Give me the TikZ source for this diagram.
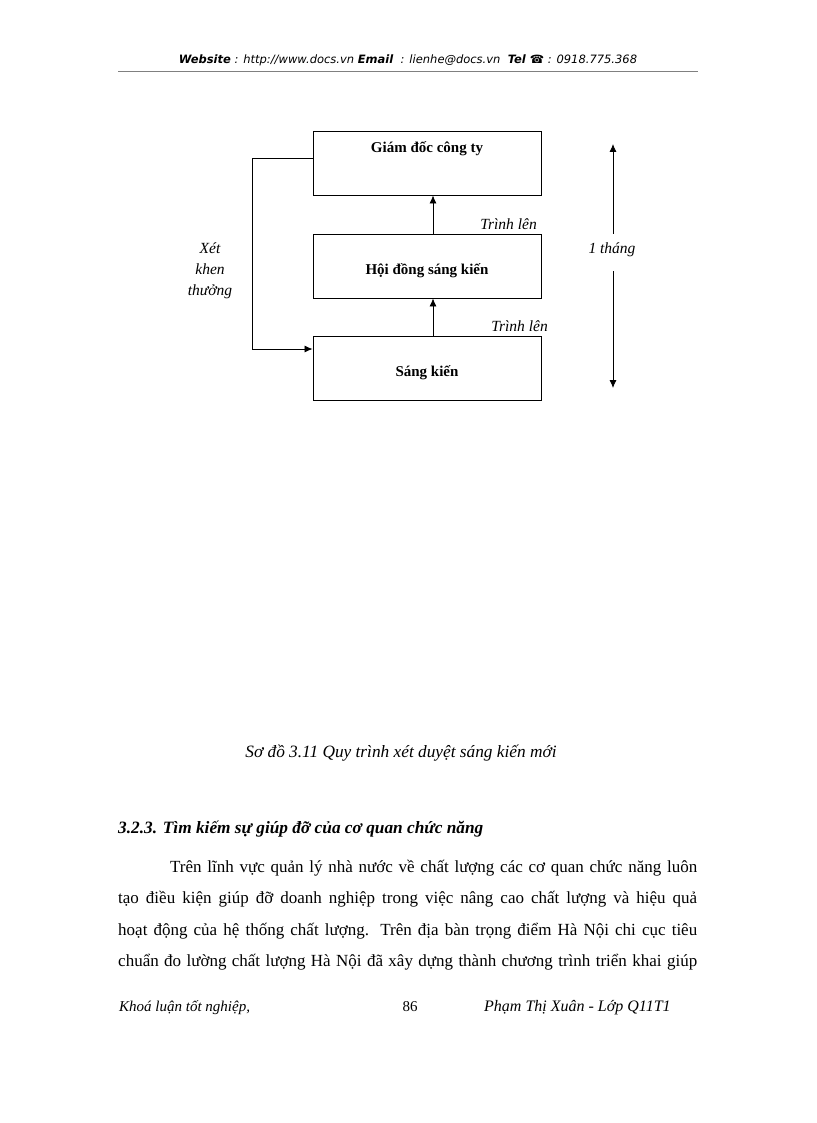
\documentclass[tikz,border=0pt]{standalone}
\usepackage{fontspec}
\setmainfont{Liberation Serif}
\newfontfamily\hdrfont{DejaVu Sans}
\usetikzlibrary{arrows.meta}
\begin{document}
\begin{tikzpicture}[x=1pt,y=-1pt,
  box/.style={draw=black,line width=0.9pt,minimum width=228pt,minimum height=64pt,inner sep=0pt},
  boxtxt/.style={font=\fontsize{15}{18}\selectfont\bfseries,inner sep=0pt},
  lbl/.style={font=\fontsize{15.5}{18}\selectfont\itshape,inner sep=0pt},
  arr/.style={line width=0.8pt,-{Latex[length=8pt,width=7pt]}},
  body/.style={font=\fontsize{17}{20}\selectfont,inner sep=0pt,anchor=base west},
]
\fill[white] (0,0) rectangle (816,1123);
\useasboundingbox (0,0) rectangle (816,1123);

% header
\node[inner sep=0pt,font=\hdrfont\fontsize{11.5}{14}\selectfont] (hdr) at (408,60)
  {\textbf{\textit{Website}}\textit{ : http://www.docs.vn }\textbf{\textit{Email}}\textit{ \ : lienhe@docs.vn \ }\textbf{\textit{Tel ☎}}\textit{ : 0918.775.368}};
\coordinate (hl) at (118,71);
\coordinate (hr) at (698,71);
\draw[gray,line width=0.9pt] (hl) -- (hr);

% boxes
\node[box] (g) at (427,163) {};
\node[boxtxt] (gt) at (427,149) {Giám đốc công ty};
\node[box] (h) at (427,266) {};
\node[boxtxt] (ht) at (427,271) {Hội đồng sáng kiến};
\node[box] (s) at (427,368) {};
\node[boxtxt] (st) at (427,373) {Sáng kiến};

\draw[arr] ([xshift=6pt]h.north) -- ([xshift=6pt]g.south);
\draw[arr] ([xshift=6pt]s.north) -- ([xshift=6pt]h.south);
\node[lbl,anchor=east] (t1) at (537,224) {Trình lên};
\node[lbl,anchor=east] (t2) at (548,326) {Trình lên};

\draw[arr] ([yshift=5pt]g.west) -- ++(-60,0) |- ([yshift=19pt]s.west);
\node[lbl,align=center] (x1) at (210,271) {Xét\\[3pt]khen\\[3pt]thưởng};

% duration arrow
\node[lbl] (m) at (612,250) {1 tháng};
\coordinate (mt) at (613,144);
\coordinate (mb) at (613,388);
\draw[arr] (m.north -| mt) ++(0,-9) -- (mt);
\draw[arr] (m.south -| mb) ++(0,14) -- (mb);

% caption
\node[inner sep=0pt,font=\fontsize{17.3}{20}\selectfont\itshape] (cap) at (401,753) {Sơ đồ 3.11 Quy trình xét duyệt sáng kiến mới};

% heading
\node[inner sep=0pt,anchor=west,font=\fontsize{17.3}{20}\selectfont\bfseries\itshape] (hd) at (118,829) {3.2.3. Tìm kiếm sự giúp đỡ của cơ quan chức năng};

% paragraph
\node[body] (p1) at (170,872) {\makebox[527pt][s]{Trên lĩnh vực quản lý nhà nước về chất lượng các cơ quan chức năng luôn}};
\node[body] (p2) at (118,903) {\makebox[579pt][s]{tạo điều kiện giúp đỡ doanh nghiệp trong việc nâng cao chất lượng và hiệu quả}};
\node[body] (p3) at (118,935) {\makebox[579pt][s]{hoạt động của hệ thống chất lượng. Trên địa bàn trọng điểm Hà Nội chi cục tiêu}};
\node[body] (p4) at (118,966) {\makebox[579pt][s]{chuẩn đo lường chất lượng Hà Nội đã xây dựng thành chương trình triển khai giúp}};

% footer
\node[inner sep=0pt,anchor=base west,font=\fontsize{15}{18}\selectfont\itshape] (f1) at (119,1011) {Khoá luận tốt nghiệp,};
\node[inner sep=0pt,anchor=base,font=\fontsize{15}{18}\selectfont] (f2) at (410,1011) {86};
\node[inner sep=0pt,anchor=base west,font=\fontsize{16}{19}\selectfont\itshape] (f3) at (484,1011) {Phạm Thị Xuân - Lớp Q11T1};
\end{tikzpicture}
\end{document}
